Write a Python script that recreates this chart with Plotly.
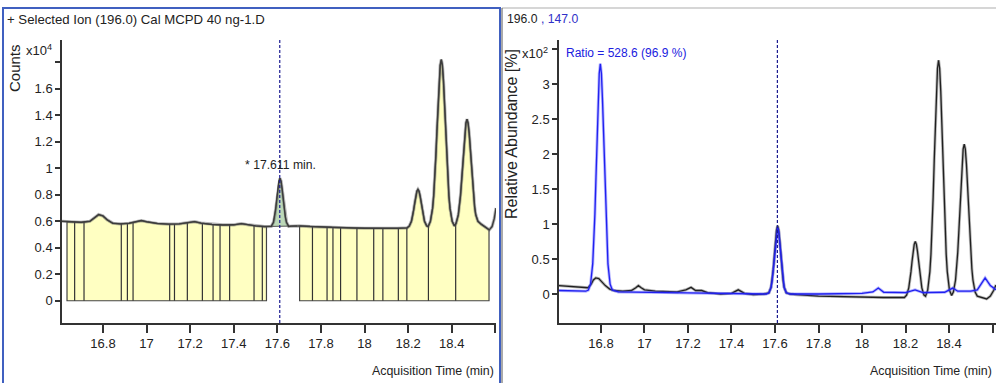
import numpy as np
import plotly.graph_objects as go

# ---------------- DATA ----------------
# Left panel: EIC 196.0 (counts x10^4)
tic_time = [16.612, 16.65, 16.70, 16.74, 16.76, 16.78, 16.80, 16.82, 16.845, 16.88, 16.92, 16.95,
            16.976, 17.00, 17.05, 17.10, 17.15, 17.19, 17.22, 17.25, 17.30, 17.35, 17.40, 17.435,
            17.47, 17.50, 17.54, 17.572, 17.582, 17.587, 17.592, 17.597, 17.602, 17.607, 17.612,
            17.617, 17.622, 17.627, 17.632, 17.637, 17.642, 17.652, 17.665, 17.70, 17.75, 17.80,
            17.85, 17.90, 17.95, 18.00, 18.05, 18.10, 18.15, 18.195, 18.205, 18.215, 18.22, 18.225,
            18.23, 18.235, 18.24, 18.245, 18.25, 18.255, 18.26, 18.265, 18.27, 18.275, 18.285,
            18.292, 18.302, 18.312, 18.317, 18.322, 18.327, 18.332, 18.337, 18.342, 18.347, 18.352,
            18.357, 18.362, 18.367, 18.372, 18.377, 18.382, 18.387, 18.392, 18.402, 18.412, 18.42,
            18.43, 18.435, 18.44, 18.445, 18.45, 18.455, 18.46, 18.465, 18.47, 18.475, 18.48, 18.485,
            18.49, 18.495, 18.50, 18.505, 18.51, 18.52, 18.535, 18.55, 18.572, 18.585, 18.595, 18.603]
tic_counts = [0.600, 0.596, 0.592, 0.600, 0.625, 0.650, 0.640, 0.610, 0.585, 0.580, 0.585, 0.598,
              0.605, 0.596, 0.583, 0.578, 0.580, 0.590, 0.597, 0.586, 0.576, 0.572, 0.573, 0.582,
              0.572, 0.565, 0.560, 0.561, 0.592, 0.630, 0.689, 0.763, 0.842, 0.902, 0.925,
              0.902, 0.842, 0.763, 0.689, 0.630, 0.592, 0.561, 0.563, 0.565, 0.560, 0.556,
              0.553, 0.551, 0.549, 0.547, 0.546, 0.546, 0.547, 0.550, 0.563, 0.600, 0.635, 0.683,
              0.737, 0.789, 0.826, 0.840, 0.826, 0.789, 0.737, 0.683, 0.635, 0.600, 0.565,
              0.560, 0.599, 0.697, 0.790, 0.920, 1.090, 1.280, 1.480, 1.660, 1.777, 1.820,
              1.777, 1.660, 1.480, 1.280, 1.090, 0.920, 0.790, 0.697, 0.599, 0.565, 0.585,
              0.648, 0.708, 0.792, 0.901, 1.026, 1.153, 1.265, 1.340, 1.370, 1.340, 1.265, 1.153,
              1.026, 0.901, 0.792, 0.708, 0.650, 0.600, 0.578, 0.560, 0.535, 0.560, 0.620, 0.700]

# integration segment boundaries (min)
segments_a = [16.635, 16.670, 16.713, 16.884, 16.912, 16.938, 17.106, 17.128, 17.187, 17.256,
              17.305, 17.337, 17.381, 17.493, 17.531, 17.550]
segments_b = [17.702, 17.761, 17.828, 17.855, 17.890, 17.965, 18.042, 18.084, 18.155, 18.194,
              18.293, 18.418, 18.571]
green_peak = [17.553, 17.690]
peak_rt = 17.611

# Right panel: qualifier ratio overlay (relative abundance x10^2 %)
q_time_black = [16.607, 16.65, 16.70, 16.74, 16.755, 16.765, 16.776, 16.79, 16.805, 16.82, 16.84,
                16.86, 16.90, 16.94, 16.96, 16.972, 16.985, 17.00, 17.05, 17.10, 17.15, 17.19,
                17.214, 17.235, 17.263, 17.29, 17.35, 17.40, 17.431, 17.46, 17.50, 17.55,
                17.572, 17.582, 17.587, 17.592, 17.597, 17.602, 17.607, 17.612, 17.617, 17.622,
                17.627, 17.632, 17.637, 17.642, 17.652, 17.67, 17.70, 17.80, 17.90, 18.00, 18.10,
                18.195, 18.205, 18.215, 18.22, 18.225, 18.23, 18.235, 18.24, 18.245, 18.25, 18.255,
                18.26, 18.265, 18.27, 18.275, 18.285, 18.292, 18.302, 18.312, 18.317, 18.322,
                18.327, 18.332, 18.337, 18.342, 18.347, 18.352, 18.357, 18.362, 18.367, 18.372,
                18.377, 18.382, 18.387, 18.392, 18.402, 18.412, 18.42, 18.43, 18.435, 18.44,
                18.445, 18.45, 18.455, 18.46, 18.465, 18.47, 18.475, 18.48, 18.485, 18.49, 18.495,
                18.50, 18.505, 18.51, 18.52, 18.53, 18.55, 18.573, 18.59, 18.605, 18.616]
q_val_black = [0.120, 0.110, 0.095, 0.090, 0.140, 0.200, 0.230, 0.220, 0.170, 0.120, 0.070,
               0.050, 0.040, 0.050, 0.090, 0.120, 0.090, 0.060, 0.040, 0.030, 0.030, 0.060,
               0.095, 0.050, 0.050, 0.020, 0.000, 0.010, 0.060, 0.010, -0.010, 0.000,
               0.017, 0.098, 0.198, 0.352, 0.549, 0.756, 0.915, 0.975, 0.915, 0.756,
               0.549, 0.352, 0.198, 0.098, 0.017, 0.000, -0.010, -0.030, -0.040, -0.050, -0.050,
               -0.050, -0.015, 0.088, 0.186, 0.316, 0.465, 0.610, 0.710, 0.750, 0.710, 0.610,
               0.465, 0.316, 0.186, 0.088, -0.015, -0.030, 0.055, 0.320, 0.570, 0.920,
               1.380, 1.900, 2.430, 2.900, 3.225, 3.340, 3.225, 2.900, 2.430, 1.900,
               1.380, 0.920, 0.570, 0.320, 0.055, -0.020, 0.028, 0.200, 0.360, 0.590,
               0.880, 1.210, 1.560, 1.860, 2.070, 2.140, 2.070, 1.860, 1.560, 1.210, 0.880,
               0.590, 0.360, 0.200, 0.028, -0.030, -0.050, -0.070, -0.030, 0.050, 0.130]

q_time_blue = [16.607, 16.65, 16.70, 16.73, 16.742, 16.752, 16.762, 16.767, 16.772, 16.777,
               16.782, 16.787, 16.792, 16.797, 16.802, 16.807, 16.812, 16.817, 16.822, 16.827,
               16.832, 16.842, 16.852, 16.88, 16.95, 17.00, 17.10, 17.20, 17.30, 17.40, 17.50,
               17.56, 17.572, 17.582, 17.587, 17.592, 17.597, 17.602, 17.607, 17.612, 17.617,
               17.622, 17.627, 17.632, 17.637, 17.642, 17.652, 17.67, 17.80, 17.90, 18.00,
               18.05, 18.075, 18.10, 18.20, 18.244, 18.28, 18.38, 18.417, 18.44, 18.50, 18.53,
               18.566, 18.59, 18.616]
q_val_blue = [0.050, 0.045, 0.040, 0.040, 0.057, 0.140, 0.430, 0.725, 1.140, 1.665,
              2.240, 2.770, 3.150, 3.290, 3.150, 2.770, 2.240, 1.665, 1.140, 0.725,
              0.430, 0.140, 0.057, 0.030, 0.030, 0.025, 0.020, 0.015, 0.010, 0.010, 0.000,
              0.000, 0.017, 0.095, 0.193, 0.343, 0.535, 0.736, 0.891, 0.950, 0.891,
              0.736, 0.535, 0.343, 0.193, 0.095, 0.017, 0.000, 0.000, 0.010, 0.010,
              0.030, 0.085, 0.025, 0.020, 0.060, 0.020, 0.025, 0.085, 0.040, 0.040, 0.060,
              0.230, 0.120, 0.060]

x_ticks = [16.8, 17.0, 17.2, 17.4, 17.6, 17.8, 18.0, 18.2, 18.4]
x_tick_text = ["16.8", "17", "17.2", "17.4", "17.6", "17.8", "18", "18.2", "18.4"]
x_extra_tick = [18.6]
left_y_ticks = [0, 0.2, 0.4, 0.6, 0.8, 1.0, 1.2, 1.4, 1.6]
left_y_text = ["0", "0.2", "0.4", "0.6", "0.8", "1", "1.2", "1.4", "1.6"]
left_y_extra_tick = [1.8]
right_y_ticks = [0, 0.5, 1.0, 1.5, 2.0, 2.5, 3.0]
right_y_text = ["0", "0.5", "1", "1.5", "2", "2.5", "3"]
right_y_extra_tick = [3.5]

# ---------------- FIGURE ----------------
W, H = 996, 383
def px(x): return x / W
def py(y): return 1 - y / H

FONT = "Liberation Sans, Arial, sans-serif"
TXT = "#222222"
fig = go.Figure()

t = np.array(tic_time); c = np.array(tic_counts)

def sub(a, b):
    m = (t > a) & (t < b)
    xs = [a] + list(t[m]) + [b]
    ys = [float(np.interp(a, t, c))] + list(c[m]) + [float(np.interp(b, t, c))]
    return xs, ys

# yellow integrated regions
for seg in (segments_a, segments_b):
    xs, ys = sub(seg[0], seg[-1])
    fig.add_trace(go.Scatter(x=xs + [seg[-1], seg[0], seg[0]], y=ys + [0, 0, ys[0]],
                             fill="toself", fillcolor="#FFFFC2", mode="lines",
                             line=dict(color="#444444", width=1.2),
                             xaxis="x", yaxis="y", showlegend=False, hoverinfo="skip"))
    vx, vy = [], []
    for b in seg[1:-1]:
        vx += [b, b, None]
        vy += [0, float(np.interp(b, t, c)), None]
    fig.add_trace(go.Scatter(x=vx, y=vy, mode="lines", line=dict(color="#333333", width=1.2),
                             xaxis="x", yaxis="y", showlegend=False, hoverinfo="skip"))

# green peak area
gx, gy = sub(green_peak[0], green_peak[1])
fig.add_trace(go.Scatter(x=gx + [gx[0]], y=gy + [gy[0]], fill="toself", fillcolor="#BCD8B8",
                         mode="lines", line=dict(color="#555555", width=1),
                         xaxis="x", yaxis="y", showlegend=False, hoverinfo="skip"))

# left chromatogram line
fig.add_trace(go.Scatter(x=tic_time, y=tic_counts, mode="lines",
                         line=dict(color="rgba(90,90,90,0.45)", width=3.2),
                         xaxis="x", yaxis="y", showlegend=False, hoverinfo="skip"))
fig.add_trace(go.Scatter(x=tic_time, y=tic_counts, mode="lines",
                         line=dict(color="#3c3c3c", width=1.4),
                         xaxis="x", yaxis="y", showlegend=False, hoverinfo="skip"))

# right panel traces
fig.add_trace(go.Scatter(x=q_time_black, y=q_val_black, mode="lines",
                         line=dict(color="rgba(80,80,80,0.4)", width=3),
                         xaxis="x2", yaxis="y2", showlegend=False, hoverinfo="skip"))
fig.add_trace(go.Scatter(x=q_time_black, y=q_val_black, mode="lines",
                         line=dict(color="#202020", width=1.3),
                         xaxis="x2", yaxis="y2", showlegend=False, hoverinfo="skip"))
fig.add_trace(go.Scatter(x=q_time_blue, y=q_val_blue, mode="lines",
                         line=dict(color="rgba(70,70,255,0.4)", width=3),
                         xaxis="x2", yaxis="y2", showlegend=False, hoverinfo="skip"))
fig.add_trace(go.Scatter(x=q_time_blue, y=q_val_blue, mode="lines",
                         line=dict(color="#2020F0", width=1.3),
                         xaxis="x2", yaxis="y2", showlegend=False, hoverinfo="skip"))

ytop, ybot = 40, 323
axis_common = dict(showline=True, linecolor="#333333", linewidth=1.5, ticks="outside",
                   tickcolor="#333333", tickwidth=1.5, showgrid=False, zeroline=False,
                   tickfont=dict(family=FONT, size=13, color=TXT))

def minor(vals, ln):
    return dict(tickvals=vals, ticks="outside", ticklen=ln, tickwidth=1.5,
                tickcolor="#333333", showgrid=False)

fig.update_layout(
    width=W, height=H, margin=dict(l=0, r=0, t=0, b=0),
    paper_bgcolor="white", plot_bgcolor="white",
    xaxis=dict(domain=[px(62), px(496)], range=[16.612, 18.603], anchor="y",
               tickvals=x_ticks, ticktext=x_tick_text, ticklen=8,
               minor=minor(x_extra_tick, 8), **axis_common),
    yaxis=dict(domain=[py(ybot), py(ytop)], range=[-0.168, 1.968], anchor="x",
               tickvals=left_y_ticks, ticktext=left_y_text, ticklen=5,
               minor=minor(left_y_extra_tick, 5), **axis_common),
    xaxis2=dict(domain=[px(559), 1.0], range=[16.607, 18.616], anchor="y2",
                tickvals=x_ticks, ticktext=x_tick_text, ticklen=8,
                minor=minor(x_extra_tick, 8), **axis_common),
    yaxis2=dict(domain=[py(ybot), py(ytop)], range=[-0.414, 3.629], anchor="x2",
                tickvals=right_y_ticks, ticktext=right_y_text, ticklen=5,
                minor=minor(right_y_extra_tick, 5), **axis_common),
)

# dashed retention-time markers
for xr in ("x", "x2"):
    fig.add_shape(type="line", xref=xr, yref="paper", x0=peak_rt, x1=peak_rt,
                  y0=py(ybot), y1=py(ytop), line=dict(color="#1a1a90", width=1.2, dash="3px,2px"))

# panel frames
fig.add_shape(type="rect", xref="paper", yref="paper", x0=px(3), x1=px(500), y0=-0.05, y1=py(8),
              line=dict(color="#4060C0", width=2), fillcolor="rgba(0,0,0,0)", layer="above")
fig.add_shape(type="line", xref="paper", yref="paper", x0=px(502), x1=1.0, y0=py(8), y1=py(8),
              line=dict(color="#C8C8C8", width=1.5))
fig.add_shape(type="line", xref="paper", yref="paper", x0=px(502), x1=px(502), y0=0, y1=py(8),
              line=dict(color="#555555", width=1))

def ann(text, x, y, xanchor="left", size=13, color=TXT, angle=0):
    fig.add_annotation(text=text, x=px(x), y=py(y), xref="paper", yref="paper",
                       xanchor=xanchor, yanchor="middle", showarrow=False, textangle=angle,
                       font=dict(family=FONT, size=size, color=color))

ann("+ Selected Ion (196.0) Cal MCPD 40 ng-1.D", 5, 19, size=13.2)
ann("x10<sup>4</sup>", 54, 50, xanchor="right", size=13)
ann("Counts", 14, 68, xanchor="center", size=15, angle=-90)
ann("* 17.611 min.", 280, 165, xanchor="center", size=12.2)
ann("Acquisition Time (min)", 496, 371, xanchor="right", size=12.4)

ann("196.0<span style='color:#3030C8'> , 147.0</span>", 505, 19, size=12.2)
ann("x10<sup>2</sup>", 550, 53, xanchor="right", size=13)
ann("Relative Abundance [%]", 511, 134, xanchor="center", size=16, angle=-90)
ann("Ratio = 528.6 (96.9 %)", 564, 53, size=12, color="#2020E0")
ann("Acquisition Time (min)", 994, 371, xanchor="right", size=12.4)

fig.write_html("out.html")
